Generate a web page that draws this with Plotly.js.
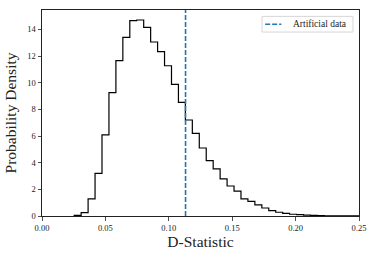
<!DOCTYPE html>
<html>
<head>
<meta charset="utf-8">
<script src="https://cdn.plot.ly/plotly-3.0.1.min.js"></script>
<style>html,body{margin:0;padding:0;background:#fff;}#chart{width:374px;height:257px;}</style>
</head>
<body>
<div id="chart"></div>
<script>
// Histogram bins (regular width) and probability densities
const binStart = 0.0254;
const binWidth = 0.00548;
const density = [0.05, 0.26, 1.28, 3.2, 6.08, 9.25, 11.65, 13.4, 14.66, 14.7,
                 14.15, 13.05, 12.33, 11.27, 9.87, 8.52, 7.2, 6.2, 5.1, 4.16,
                 3.53, 2.78, 2.25, 1.86, 1.28, 1.1, 0.83, 0.6, 0.41, 0.28,
                 0.2, 0.13, 0.1, 0.07, 0.05, 0.03, 0.02, 0.015, 0.01, 0.005, 0.003];
const artificialD = 0.1132;
const artificialLabel = 'Artificial data';
const xTicks = [0, 0.05, 0.10, 0.15, 0.20, 0.25];
const yTicks = [0, 2, 4, 6, 8, 10, 12, 14];

const edges = [];
for (let i = 0; i <= density.length; i++) edges.push(binStart + i * binWidth);
const sx = [edges[0]], sy = [0];
for (let i = 0; i < density.length; i++) { sx.push(edges[i]); sy.push(density[i]); }
sx.push(edges[density.length]); sy.push(0);

const font = 'Liberation Serif, DejaVu Serif, serif';
const blue = '#1f77b4';
const traces = [{
  x: sx, y: sy, type: 'scatter', mode: 'lines',
  line: {shape: 'hv', color: '#000', width: 1.2},
  showlegend: false, hoverinfo: 'skip'
}];

const layout = {
  width: 374, height: 257,
  margin: {l: 42, r: 15, t: 10, b: 41},
  paper_bgcolor: '#fff', plot_bgcolor: '#fff',
  font: {family: font, color: '#222', size: 9},
  showlegend: false,
  xaxis: {
    range: [0, 0.25], tickvals: xTicks, tickformat: '.2f',
    ticks: 'outside', ticklen: 3.5, tickwidth: 0.8, tickcolor: '#222',
    showgrid: false, zeroline: false, showline: true, linecolor: '#222', linewidth: 1, mirror: true,
    tickfont: {family: font, size: 8.5, color: '#222'},
    title: {text: 'D-Statistic', font: {family: font, size: 15.5, color: '#222'}, standoff: 3}
  },
  yaxis: {
    range: [0, 15.45], tickvals: yTicks,
    ticks: 'outside', ticklen: 3.5, tickwidth: 0.8, tickcolor: '#222',
    showgrid: false, zeroline: false, showline: true, linecolor: '#222', linewidth: 1, mirror: true,
    tickfont: {family: font, size: 8.5, color: '#222'},
    title: {text: 'Probability Density', font: {family: font, size: 15.5, color: '#222'}, standoff: 6}
  },
  shapes: [
    {type: 'line', xref: 'x', yref: 'paper', x0: artificialD, x1: artificialD, y0: 0, y1: 1,
     line: {color: blue, width: 1.6, dash: '5px,2px'}},
    // legend frame and sample line
    {type: 'rect', xref: 'paper', yref: 'paper', x0: 0.694, x1: 0.981, y0: 0.893, y1: 0.969,
     line: {color: '#d6d6d6', width: 1}, fillcolor: 'rgba(255,255,255,0.8)'},
    {type: 'line', xref: 'paper', yref: 'paper', x0: 0.704, x1: 0.755, y0: 0.931, y1: 0.931,
     line: {color: blue, width: 1.6, dash: '5px,2px'}}
  ],
  annotations: [{
    xref: 'paper', yref: 'paper', x: 0.786, y: 0.931, xanchor: 'left', yanchor: 'middle',
    text: artificialLabel, showarrow: false,
    font: {family: font, size: 9.5, color: '#222'}
  }]
};
Plotly.newPlot('chart', traces, layout, {staticPlot: true, displayModeBar: false});
</script>
</body>
</html>
